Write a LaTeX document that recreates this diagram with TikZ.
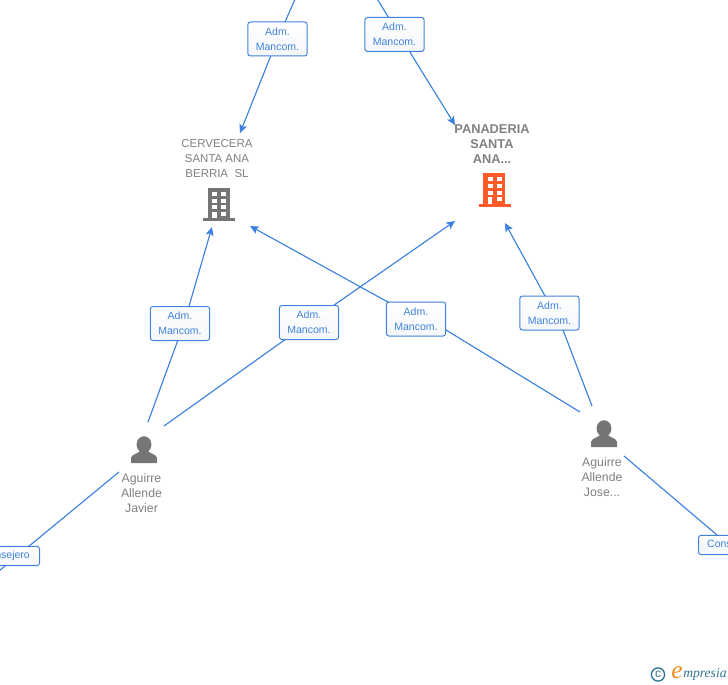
\documentclass[tikz,border=0pt]{standalone}
\usepackage{fontspec}
\setmainfont{Liberation Sans}
\newfontfamily\logofont{Liberation Serif}
\usetikzlibrary{arrows.meta}
\definecolor{linkblue}{HTML}{3C80E0}
\definecolor{labelblue}{HTML}{3F83DC}
\definecolor{graytxt}{HTML}{808080}
\definecolor{iconfill}{HTML}{757575}
\definecolor{orangefill}{HTML}{FF5A2A}
\definecolor{logoblue}{HTML}{2F7392}
\definecolor{logoorange}{HTML}{F08A1D}
\definecolor{boxshade}{HTML}{F4F6FA}
\newcommand{\buildingicon}[2]{%
  \begin{scope}[shift={(#1)}]
    \fill[#2] (4.5,0) rectangle (26.5,31);
    \fill[#2] (0,30.5) rectangle (32,33.5);
    \foreach \wx in {9,18}{\foreach \wy in {4,11,17.5}{\fill[white] (\wx,\wy) rectangle ++(5,4.3);}}
    \fill[white] (9,24) rectangle ++(4.5,6.5);
    \fill[white] (18,24) rectangle ++(5,4.3);
  \end{scope}}
\newcommand{\personicon}[1]{%
  \begin{scope}[shift={(#1)}]
    \fill[iconfill] (13,8) ellipse (7.4 and 8.3);
    \fill[iconfill] (0,26.5) -- (0,21.5) .. controls (0.8,17.5) and (6.5,17.5) .. (9,14.5)
      -- (17,14.5) .. controls (19.5,17.5) and (25.2,17.5) .. (26,21.5) -- (26,26.5) -- cycle;
  \end{scope}}
\tikzset{
  x=0.75pt,y=-0.75pt,
  link/.style={draw=linkblue,line width=0.85pt},
  tip/.style={-{Stealth[length=6.5pt,width=6pt,inset=1.5pt]}},
  rolebox/.style={draw=labelblue,line width=0.75pt,rounded corners=2pt,top color=white,bottom color=boxshade,
    text=labelblue,font=\fontsize{7.9pt}{11.25pt}\selectfont,align=center,
    minimum width=44.5pt,minimum height=25.5pt,inner sep=0pt},
  rolewide/.style={rolebox,minimum height=14.5pt},
  entity/.style={text=graytxt,align=center,font=\fontsize{8.6pt}{11.25pt}\selectfont,inner sep=0pt},
  person/.style={entity,font=\fontsize{9.2pt}{11.25pt}\selectfont},
  entitybold/.style={entity,font=\bfseries\fontsize{9.6pt}{11.25pt}\selectfont},
}
\begin{document}
\begin{tikzpicture}
\useasboundingbox (0,0) rectangle (728,685);
\begin{scope}
\clip (0,0) rectangle (728,685);

% free ends and connector ends
\coordinate (topA) at (296,-3);
\coordinate (topB) at (376,-3);
\coordinate (cervTop) at (240,133);
\coordinate (panTop) at (455,125);
\coordinate (cervL) at (212,227);
\coordinate (cervR) at (250,226);
\coordinate (panL) at (455,221);
\coordinate (panR) at (505,223);
\coordinate (javA) at (148,422);
\coordinate (javB) at (164,426);
\coordinate (javC) at (119,472);
\coordinate (joseA) at (580,412);
\coordinate (joseB) at (592,406);
\coordinate (joseC) at (624,456);
\coordinate (offL) at (-6,575);
\coordinate (offR) at (730,546);

% points behind the role boxes
\coordinate (p1) at (277.5,39);
\coordinate (p2) at (399,34.5);
\coordinate (p3) at (184,323.5);
\coordinate (p4) at (309,322.5);
\coordinate (p5a) at (446,330);
\coordinate (p5b) at (386,301);
\coordinate (p6a) at (563,330);
\coordinate (p6b) at (545,296);

\draw[link,tip] (topA) -- (p1) -- (cervTop);
\draw[link,tip] (topB) -- (p2) -- (panTop);
\draw[link,tip] (javA) -- (p3) -- (cervL);
\draw[link,tip] (javB) -- (p4) -- (panL);
\draw[link,tip] (joseA) -- (p5a) -- (p5b) -- (cervR);
\draw[link,tip] (joseB) -- (p6a) -- (p6b) -- (panR);
\draw[link] (javC) -- (offL);
\draw[link] (joseC) -- (offR);

\node[rolebox] (r1) at (277.5,39) {Adm.\\Mancom.};
\node[rolebox] (r2) at (394.5,34.5) {Adm.\\Mancom.};
\node[rolebox] (r3) at (180,323.5) {Adm.\\Mancom.};
\node[rolebox] (r4) at (309,322.5) {Adm.\\Mancom.};
\node[rolebox] (r5) at (416,319) {Adm.\\Mancom.};
\node[rolebox] (r6) at (549.5,313) {Adm.\\Mancom.};
\node[rolewide,anchor=east] (r7) at (40,556) {Consejero\hspace{6pt}};
\node[rolewide,anchor=west] (r8) at (698,545) {\hspace{4.5pt}Consejero};

\node[entity] (cerv) at (217,159) {CERVECERA\\SANTA ANA\\BERRIA\ \ SL};
\node[entitybold] (pan) at (492,144) {PANADERIA\\SANTA\\ANA...};
\node[person] (jav) at (141.5,493) {Aguirre\\Allende\\Javier};
\node[person] (jose) at (602,477) {Aguirre\\Allende\\Jose...};

\buildingicon{203,187.5}{iconfill}
\buildingicon{478.5,173}{orangefill}
\personicon{131,436.5}
\personicon{591,420.5}

% logo
\draw[logoblue,line width=1pt] (658,674.5) circle (6.6);
\node[text=logoblue,inner sep=0pt,font=\fontsize{9pt}{9pt}\selectfont] (copy) at (658,674) {c};
\node[text=logoorange,inner sep=0pt,font=\logofont\itshape\fontsize{19pt}{19pt}\selectfont] (logoe) at (677,673) {e};
\node[text=logoblue,inner sep=0pt,anchor=west,font=\logofont\itshape\fontsize{10.2pt}{10.2pt}\selectfont] (logot) at (683,674.5) {mpresia};
\end{scope}
\end{tikzpicture}
\end{document}
